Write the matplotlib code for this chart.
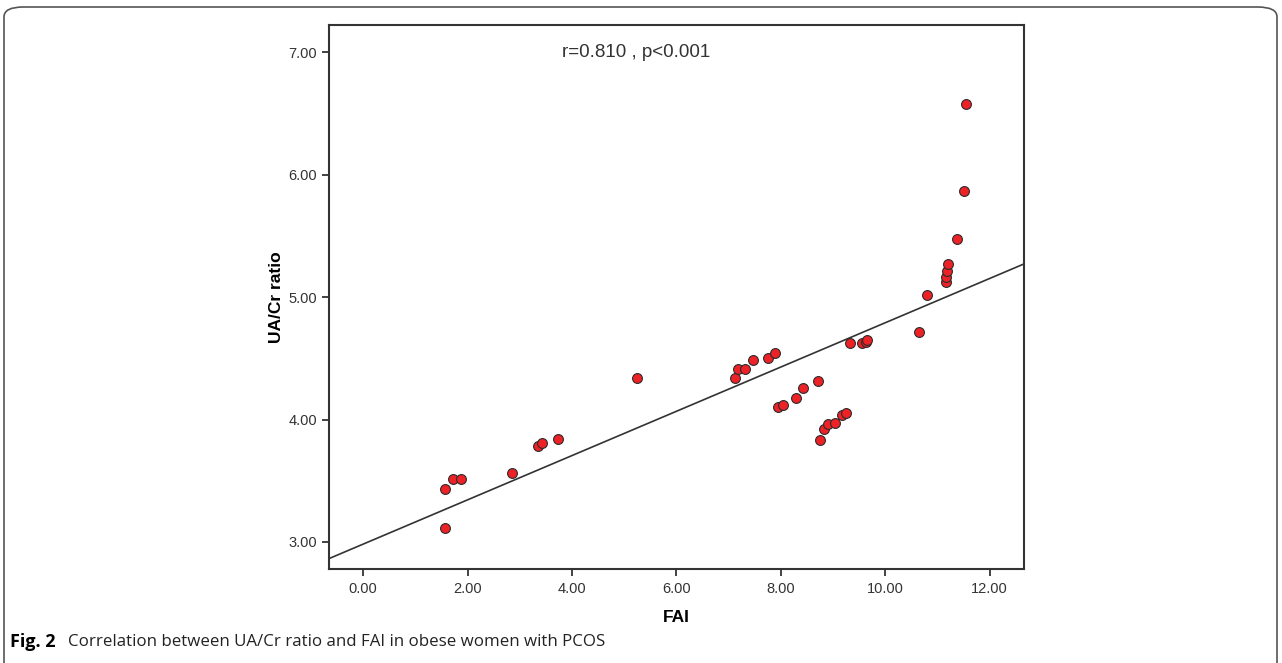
import matplotlib.pyplot as plt
import numpy as np
from matplotlib.patches import FancyBboxPatch

# FAI vs UA/Cr ratio
fai = [1.56, 1.56, 1.725, 1.873, 2.85, 3.343, 3.431, 3.738, 5.246,
       7.125, 7.188, 7.316, 7.476, 7.75, 7.89,
       7.94, 8.05, 8.29, 8.42, 8.72,
       8.76, 8.83, 8.91, 9.04, 9.18, 9.25,
       9.33, 9.55, 9.635, 9.66, 10.65, 10.81,
       11.16, 11.175, 11.19, 11.21, 11.37, 11.51, 11.54]
ua_cr = [3.433, 3.117, 3.515, 3.515, 3.561, 3.787, 3.806, 3.839, 4.337,
         4.342, 4.413, 4.413, 4.487, 4.506, 4.541,
         4.105, 4.117, 4.174, 4.261, 4.315,
         3.836, 3.923, 3.964, 3.972, 4.038, 4.051,
         4.623, 4.623, 4.636, 4.65, 4.713, 5.02,
         5.127, 5.163, 5.212, 5.274, 5.478, 5.865, 6.581]

x_ticks = [0, 2, 4, 6, 8, 10, 12]
y_ticks = [3, 4, 5, 6, 7]
x_lim = (-0.65, 12.66)
y_lim = (2.777, 7.223)

annot = "r=0.810 , p<0.001"
caption_bold = "Fig. 2"
caption = "Correlation between UA/Cr ratio and FAI in obese women with PCOS"

plt.rcParams['font.family'] = ['Liberation Sans', 'DejaVu Sans']

fig = plt.figure(figsize=(12.82, 6.63), dpi=100)

# outer rounded frame
frame = FancyBboxPatch((4 / 1282, -0.05), 1273 / 1282, 1.05 - 7 / 663,
                       boxstyle="round,pad=0,rounding_size=0.015",
                       transform=fig.transFigure, fill=False,
                       edgecolor='#555555', linewidth=1.2, clip_on=False)
fig.patches.append(frame)

ax = fig.add_axes([329.3 / 1282, 1 - 569.3 / 663, (1024 - 329.3) / 1282, (569.3 - 25) / 663])

ax.scatter(fai, ua_cr, s=50, color='#ec2227', edgecolor='#2b2b2b',
           linewidth=0.8, zorder=3)

# least-squares fit line
slope, intercept = np.polyfit(fai, ua_cr, 1)
xs = np.array(x_lim)
ax.plot(xs, slope * xs + intercept, color='#333333', linewidth=1.2, zorder=2)

ax.set_xlim(*x_lim)
ax.set_ylim(*y_lim)
ax.set_xticks(x_ticks)
ax.set_yticks(y_ticks)
ax.set_xticklabels([f"{v:.2f}" for v in x_ticks])
ax.set_yticklabels([f"{v:.2f}" for v in y_ticks])
ax.tick_params(direction='out', length=5, width=1.3, color='#333333',
               labelsize=10.5, labelcolor='#333333', pad=4)
for sp in ax.spines.values():
    sp.set_linewidth(1.5)
    sp.set_color('#333333')

ax.set_xlabel("FAI", fontsize=12.5, fontweight='bold', labelpad=10)
ax.set_ylabel("UA/Cr ratio", fontsize=12.5, fontweight='bold', labelpad=3)

ax.text(0.335, 0.95, annot, transform=ax.transAxes, fontsize=13.5,
        color='#333333', va='center', ha='left')

fig.text(10 / 1282, 1 - 642 / 663, caption_bold, fontsize=13,
         fontweight='bold', family=['Open Sans', 'DejaVu Sans'],
         va='center', ha='left')
fig.text(68 / 1282, 1 - 642 / 663, caption, fontsize=12.2,
         family=['Open Sans', 'DejaVu Sans'], va='center', ha='left',
         color='#222222')

fig.savefig('out.png', dpi=100)
